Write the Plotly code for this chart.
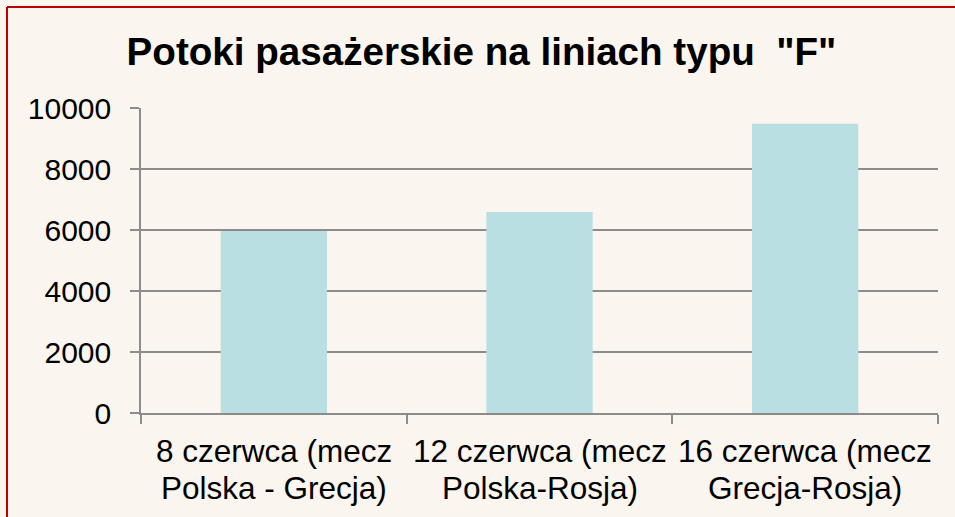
import plotly.graph_objects as go

title_text = 'Potoki pasażerskie na liniach typu  "F"'
categories = ["8 czerwca", "12 czerwca", "16 czerwca"]
label_line1 = ["8 czerwca (mecz", "12 czerwca (mecz", "16 czerwca (mecz"]
label_line2 = ["Polska - Grecja)", "Polska-Rosja)", "Grecja-Rosja)"]
values = [5970, 6590, 9480]
y_ticks = [0, 2000, 4000, 6000, 8000, 10000]
y_tick_text = ["0", "2000", "4000", "6000", "8000", "10000"]

W, H = 955, 517
ml, mr, mt, mb = 141, 17, 108, 104
pw, ph = W - ml - mr, H - mt - mb

bg = "#faf5ee"
grid = "#8c8c8c"
font_family = "Liberation Sans, Arial, sans-serif"

fig = go.Figure(go.Bar(x=categories, y=values, marker=dict(color="#b9dfe2", line=dict(width=0))))

fig.update_layout(
    width=W, height=H,
    margin=dict(l=ml, r=mr, t=mt, b=mb),
    paper_bgcolor=bg, plot_bgcolor=bg,
    bargap=0.6,
    showlegend=False,
    font=dict(family=font_family, color="#000000"),
    title=dict(text="<b>" + title_text + "</b>", x=0.5 + 4 / W, xref="container",
               y=1 - 51 / H, yanchor="middle", yref="container",
               font=dict(size=38.6, family=font_family, color="#000000")),
)
fig.update_yaxes(range=[0, 10000], tickvals=y_ticks, ticktext=y_tick_text,
                 showgrid=True, gridcolor=grid, gridwidth=1.5,
                 showline=True, linecolor=grid, linewidth=1.5, ticks="outside", ticklen=9,
                 tickcolor=grid, tickwidth=1.5, tickfont=dict(size=30), ticklabelstandoff=13,
                 zeroline=False)
fig.update_xaxes(type="category", showgrid=False, showline=True, linecolor=grid, linewidth=1.5,
                 ticks="outside", tickson="boundaries", ticklen=9, tickcolor=grid, tickwidth=1.5,
                 showticklabels=False)

# two-line category labels (tighter line spacing than Plotly's <br>)
for cat, l1, l2 in zip(categories, label_line1, label_line2):
    fig.add_annotation(x=cat, xref="x", y=0, yref="paper", text=l1, showarrow=False,
                       yanchor="middle", yshift=-38, font=dict(size=31.5, family=font_family))
    fig.add_annotation(x=cat, xref="x", y=0, yref="paper", text=l2, showarrow=False,
                       yanchor="middle", yshift=-75, font=dict(size=31.5, family=font_family))

# red frame: only its left and top edges are inside the picture
fx0 = (7 - ml) / pw
fy1 = 1 + (mt - 7) / ph
fig.add_shape(type="line", xref="paper", yref="paper", x0=fx0, x1=fx0, y0=fy1, y1=-mb / ph,
              line=dict(color="#c00000", width=2), layer="above")
fig.add_shape(type="line", xref="paper", yref="paper", x0=fx0, x1=(W - ml) / pw, y0=fy1, y1=fy1,
              line=dict(color="#c00000", width=2), layer="above")

fig.write_html("out.html", config={"displayModeBar": False},
               post_script="document.body.style.margin='0';document.body.style.background='#faf5ee';")
